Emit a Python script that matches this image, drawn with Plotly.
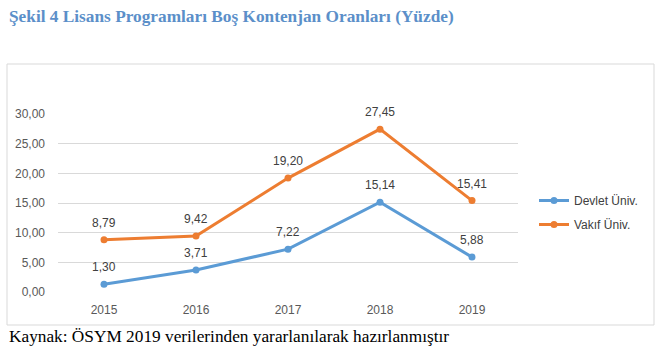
import plotly.graph_objects as go

years = ["2015", "2016", "2017", "2018", "2019"]
devlet = [1.30, 3.71, 7.22, 15.14, 5.88]
vakif = [8.79, 9.42, 19.20, 27.45, 15.41]
series_names = ["Devlet Üniv.", "Vakıf Üniv."]
y_ticks = [0, 5, 10, 15, 20, 25, 30]
title_text = "Şekil 4 Lisans Programları Boş Kontenjan Oranları (Yüzde)"
source_text = "Kaynak: ÖSYM 2019 verilerinden yararlanılarak hazırlanmıştır"

W, H = 660, 358
L, R, T, B = 58, 142, 114, 66
PW, PH = W - L - R, H - T - B

def px_x(x):
    return (x - L) / PW

def px_y(y):
    return (H - B - y) / PH

def fmt(v):
    return f"{v:.2f}".replace(".", ",")

BLUE = "#5B9BD5"
ORANGE = "#ED7D31"
SANS = "Liberation Sans, Arial"
label_font = dict(family=SANS, size=12, color="#404040")

fig = go.Figure()
for name, vals, col in [(series_names[0], devlet, BLUE), (series_names[1], vakif, ORANGE)]:
    xs = list(range(len(years)))
    fig.add_trace(go.Scatter(
        x=xs, y=vals, name=name, legendgroup=name,
        mode="lines+markers",
        line=dict(color=col, width=3),
        marker=dict(color=col, size=7),
        cliponaxis=False,
    ))
    for xi, v in zip(xs, vals):
        fig.add_annotation(x=xi, y=v, text=fmt(v), showarrow=False,
                           yshift=17, font=label_font)

fig.update_layout(
    width=W, height=H,
    margin=dict(l=L, r=R, t=T, b=B),
    paper_bgcolor="white", plot_bgcolor="white",
    xaxis=dict(range=[-0.5, len(years) - 0.5], tickvals=list(range(len(years))), ticktext=years,
               showgrid=False, zeroline=False, showline=False, ticks="",
               ticklabelstandoff=9,
               tickfont=dict(family=SANS, size=12, color="#595959")),
    yaxis=dict(range=[0, 30], tickvals=y_ticks, ticktext=[fmt(v) for v in y_ticks],
               showgrid=True, gridcolor="#D9D9D9", gridwidth=1, zeroline=False,
               showline=False, ticks="", ticklabelstandoff=12,
               tickfont=dict(family=SANS, size=12, color="#595959")),
    legend=dict(x=px_x(534), y=px_y(186), xanchor="left", yanchor="top",
                font=dict(family=SANS, size=12, color="#404040"),
                itemwidth=30,
                bgcolor="rgba(0,0,0,0)", tracegroupgap=5),
    showlegend=True,
)

fig.add_shape(type="rect", xref="paper", yref="paper",
              x0=px_x(7), x1=px_x(654), y0=px_y(325), y1=px_y(64),
              line=dict(color="#D9D9D9", width=1), layer="below")

fig.add_annotation(xref="paper", yref="paper", x=px_x(7), y=px_y(16),
                   xanchor="left", yanchor="middle", showarrow=False,
                   text="<b>" + title_text + "</b>",
                   font=dict(family="Liberation Serif, Times New Roman", size=17.3, color="#5B8FC9"))
fig.add_annotation(xref="paper", yref="paper", x=px_x(7), y=px_y(336),
                   xanchor="left", yanchor="middle", showarrow=False,
                   text=source_text,
                   font=dict(family="Liberation Serif, Times New Roman", size=17.3, color="#000000"))

fig.write_html("out.html", config={"displayModeBar": False},
               post_script="document.body.style.margin='0';document.body.style.padding='0';")
